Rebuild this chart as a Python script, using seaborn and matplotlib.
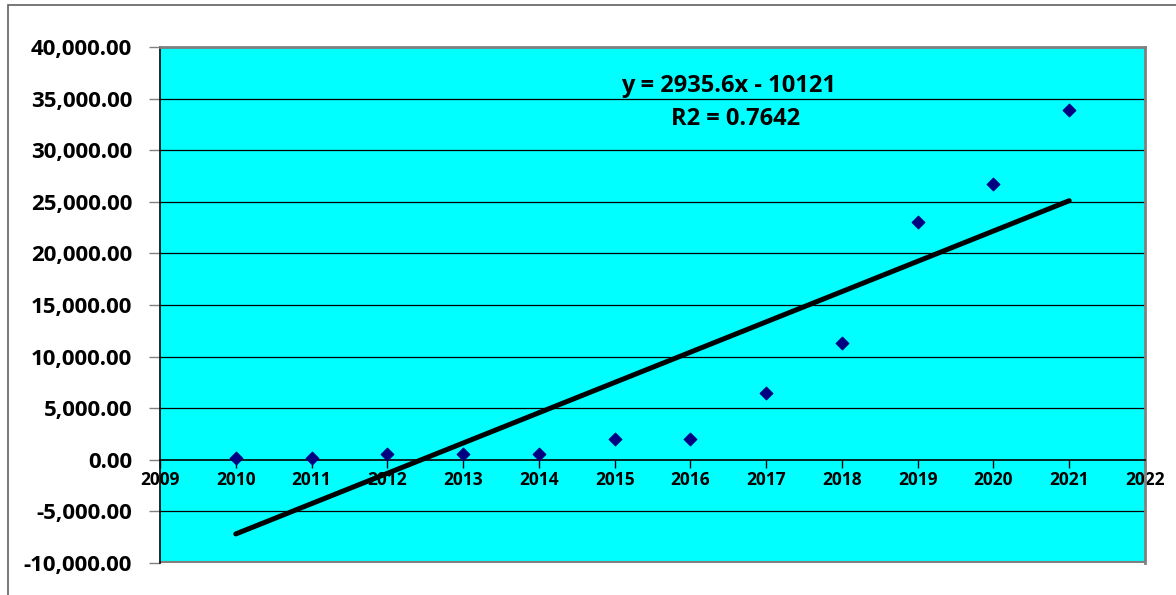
import seaborn as sns
from matplotlib import pyplot as plt
from matplotlib.patches import Rectangle
from matplotlib.ticker import FuncFormatter

years = [2010, 2011, 2012, 2013, 2014, 2015, 2016, 2017, 2018, 2019, 2020, 2021]
values = [150, 150, 580, 580, 560, 1970, 2000, 6460, 11300, 23000, 26760, 33870]

# excel trendline, fitted on the point index 1..12
trend_slope = 2935.6
trend_intercept = -10121
trend_r2 = 0.7642

sns.set_style('white')
plt.rcParams['font.family'] = ['Open Sans', 'DejaVu Sans']
plt.rcParams['font.weight'] = 'bold'
plt.rcParams['text.color'] = 'black'
plt.rcParams['xtick.color'] = 'black'
plt.rcParams['ytick.color'] = 'black'

fig = plt.figure(figsize=(11.76, 5.95), dpi=100)
ax = fig.add_axes([160 / 1176, 32 / 595, 985 / 1176, 516 / 595])
ax.set_facecolor('#00FFFF')

idx = list(range(1, len(years) + 1))
trend_y = [trend_intercept + trend_slope * i for i in idx]
sns.lineplot(x=years, y=trend_y, color='black', linewidth=3.6, ax=ax, zorder=3)
sns.scatterplot(x=years, y=values, marker='D', color='#000080', s=45,
                edgecolor='#000080', ax=ax, zorder=4)

ax.set_xlim(2009, 2022)
ax.set_ylim(-10000, 40000)
ax.set_yticks(range(-10000, 40001, 5000))
ax.set_xticks(range(2009, 2023))
ax.yaxis.set_major_formatter(FuncFormatter(lambda v, p: f'{v:,.2f}'))
for y in range(-5000, 40001, 5000):
    if y != 0:
        ax.axhline(y, color='black', linewidth=0.9, zorder=1)

ax.spines['bottom'].set_position(('data', 0))
ax.spines['bottom'].set_color('black')
ax.spines['bottom'].set_linewidth(1.2)
ax.spines['left'].set_color('black')
ax.spines['left'].set_linewidth(1.2)
for s in ['top', 'right']:
    ax.spines[s].set_color('#808080')
    ax.spines[s].set_linewidth(2)
ax.axhline(-10000, color='#808080', linewidth=3, zorder=2)

ax.tick_params(axis='y', direction='out', length=8, width=1, color='#808080',
               labelcolor='black', labelsize=16, pad=12, left=True)
ax.tick_params(axis='x', direction='out', length=6, width=1, color='black',
               labelcolor='black', labelsize=12.5, pad=2, bottom=True)
for lab in ax.get_xticklabels() + ax.get_yticklabels():
    lab.set_fontweight('bold')

ax.text(2016.5, 36200, f'y = {trend_slope}x - {abs(trend_intercept)}',
        ha='center', va='center', fontsize=17, fontweight='bold')
ax.text(2016.6, 33000, f'R2 = {trend_r2}',
        ha='center', va='center', fontsize=17, fontweight='bold')

fig.patches.append(Rectangle((8 / 1176, -0.1), 1.2, 1 - 5 / 595 + 0.1,
                             transform=fig.transFigure, fill=False,
                             edgecolor='#606060', linewidth=1.2))

fig.savefig('out.png', dpi=100)
